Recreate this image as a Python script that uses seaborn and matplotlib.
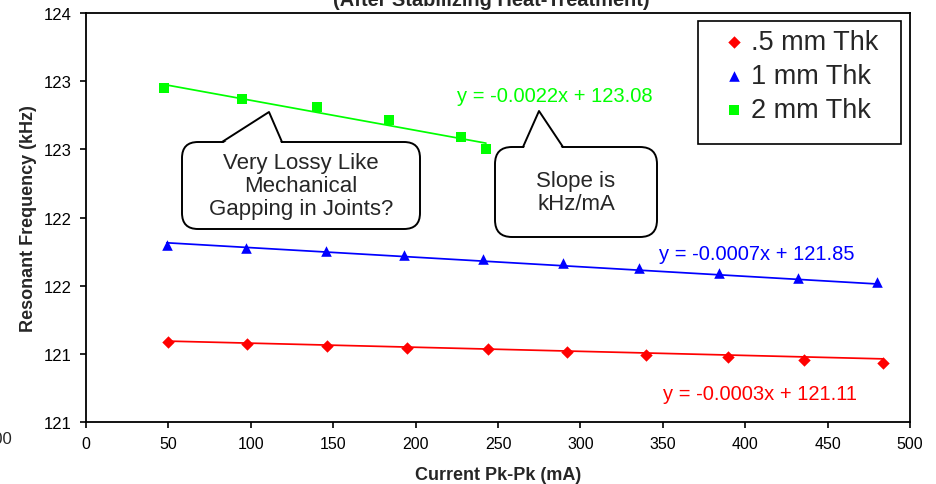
import numpy as np
import pandas as pd
import matplotlib
matplotlib.use("Agg")
import matplotlib.pyplot as plt
import matplotlib.transforms as mtransforms
from matplotlib.patches import FancyBboxPatch, Polygon, Rectangle
from matplotlib.lines import Line2D
import seaborn as sns

# ---- data -------------------------------------------------------------
series_names = [".5 mm Thk", "1 mm Thk", "2 mm Thk"]

x_half = [49.9, 97.5, 146.4, 194.6, 244.1, 291.7, 339.8, 389.7, 435.9, 483.4]
y_half = [121.091, 121.074, 121.057, 121.047, 121.035, 121.015, 120.996,
          120.977, 120.957, 120.935]

x_one = [49.0, 97.1, 145.4, 193.1, 241.1, 289.3, 335.7, 384.1, 432.2, 479.8]
y_one = [121.802, 121.780, 121.754, 121.727, 121.697, 121.666, 121.633,
         121.595, 121.558, 121.526]

x_two = [47.5, 94.8, 140.0, 184.0, 227.5, 242.7]
y_two = [122.949, 122.872, 122.809, 122.716, 122.592, 122.501]

# linear trend coefficients (slope kHz/mA, intercept kHz)
trend_slopes = [-0.0003, -0.0007, -0.0022]
trend_intercepts = [121.11, 121.85, 123.08]

y_tick_values = [120.5, 121.0, 121.5, 122.0, 122.5, 123.0, 123.5]
y_tick_labels = ["121", "121", "122", "122", "123", "123", "124"]
x_tick_values = [0, 50, 100, 150, 200, 250, 300, 350, 400, 450, 500]

title_text = "(After Stabilizing Heat-Treatment)"
x_label = "Current Pk-Pk (mA)"
y_label = "Resonant Frequency (kHz)"
note_loss = "Very Lossy Like\nMechanical\nGapping in Joints?"
note_slope = "Slope is\nkHz/mA"

# ---- styling ----------------------------------------------------------
sns.set_style("white")
plt.rcParams["font.family"] = ["Liberation Sans", "DejaVu Sans"]

colors = ["#FF0000", "#0000FF", "#00FF00"]
markers = ["D", "^", "s"]
sizes = [40, 58, 44]

W, H = 937, 485
fig = plt.figure(figsize=(W / 100, H / 100), dpi=100)
ax = fig.add_axes([86 / W, 1 - 423.3 / H, 824 / W, 409.3 / H])

# pixel coordinates measured from the top-left corner of the figure
px = mtransforms.Affine2D().scale(1 / W, -1 / H).translate(0, 1) + fig.transFigure

xs = [x_half, x_one, x_two]
ys = [y_half, y_one, y_two]

for name, xv, yv, c, m, s, k, b in zip(series_names, xs, ys, colors, markers,
                                       sizes, trend_slopes, trend_intercepts):
    pts = pd.DataFrame({"x": xv, "y": yv})
    sns.scatterplot(data=pts, x="x", y="y", color=c, marker=m, s=s,
                    linewidth=0, label=name, ax=ax, zorder=3)
    xr = np.array([min(xv), max(xv)])
    fit = pd.DataFrame({"x": xr, "y": k * xr + b})
    sns.lineplot(data=fit, x="x", y="y", color=c, linewidth=1.25,
                 legend=False, ax=ax, zorder=2)

ax.set_xlim(0, 500)
ax.set_ylim(120.5, 123.5)
ax.set_xticks(x_tick_values)
ax.set_yticks(y_tick_values)
ax.set_yticklabels(y_tick_labels)
ax.tick_params(axis="x", direction="out", length=4, width=1.2, pad=6,
               labelsize=11.5, colors="black", bottom=True)
ax.tick_params(axis="y", direction="out", length=4, width=1.2, pad=6,
               labelsize=12, colors="black", left=True)
for sp in ax.spines.values():
    sp.set_color("black")
    sp.set_linewidth(1.3)

ax.set_xlabel(x_label, fontsize=13, fontweight="bold")
ax.set_ylabel(y_label, fontsize=13, fontweight="bold")
ax.xaxis.set_label_coords(0.5, -0.107)
ax.yaxis.set_label_coords(-0.0595, 0.5)

# title sits partly above the canvas edge
fig.text(491 / W, 1 - 6.5 / H, title_text, ha="center", va="baseline",
         fontsize=14.4, fontweight="bold")
fig.text(13 / W, 1 - 440 / H, "100", ha="right", va="center", fontsize=12)

# trend equations
eq_pos = [(663, 395), (659, 254), (457, 97)]
for (ex, ey), c, k, b in zip(eq_pos, colors, trend_slopes, trend_intercepts):
    ax.text(ex, ey, f"y = {k:.4f}x + {b:.2f}", transform=px, color=c,
            fontsize=14.5, ha="left", va="center")

# legend with a plain rectangular frame
leg = ax.legend(loc="upper left", bbox_to_anchor=(720 / W, 1 - 30 / H),
                bbox_transform=fig.transFigure, frameon=False, fontsize=19.5,
                borderpad=0, handlelength=1.0, handletextpad=0.15,
                labelspacing=0.3, borderaxespad=0)
fig.add_artist(Rectangle((698, 22), 203, 123, transform=px, fill=False,
                         edgecolor="black", linewidth=1.2))


def callout(x0, y0, x1, y1, r, base0, base1, tip, text, fs):
    box = FancyBboxPatch((x0, y0), x1 - x0, y1 - y0,
                         boxstyle=f"round,pad=0,rounding_size={r}",
                         transform=px, facecolor="white", edgecolor="black",
                         linewidth=1.4, zorder=4)
    fig.add_artist(box)
    fig.add_artist(Polygon([(base0 + 0.8, y0 + 1.5), tip, (base1 - 0.8, y0 + 1.5)],
                           closed=True, transform=px, facecolor="white",
                           edgecolor="none", zorder=5))
    fig.add_artist(Line2D([base0, tip[0], base1], [y0, tip[1], y0],
                          transform=px, color="black", linewidth=1.4, zorder=6))
    fig.text((x0 + x1) / 2 / W, 1 - ((y0 + y1) / 2) / H, text, ha="center",
             va="center", fontsize=fs, linespacing=1.12, zorder=7)


callout(182, 143, 420, 230, 16, 222, 282, (269, 113), note_loss, 16)
callout(495, 148, 657, 238, 17, 523, 563, (539, 112), note_slope, 16)

fig.savefig("out.png", dpi=100, facecolor="white")
